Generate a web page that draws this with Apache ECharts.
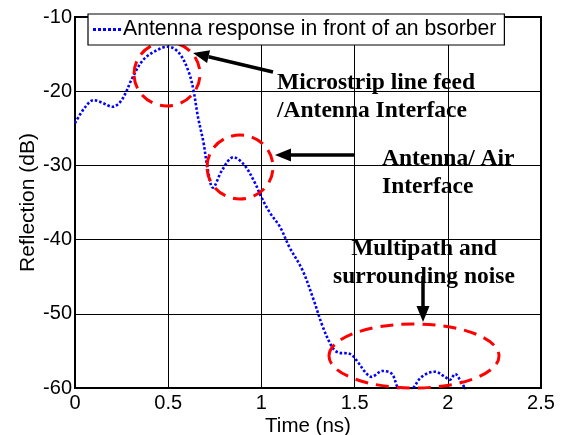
<!DOCTYPE html>
<html>
<head>
<meta charset="utf-8">
<script src="https://cdn.jsdelivr.net/npm/echarts@6/dist/echarts.min.js"></script>
<style>
  html, body { margin: 0; padding: 0; background: #fff; }
  #chart { width: 562px; height: 435px; }
</style>
</head>
<body>
<div id="chart"></div>
<script>
// Time axis samples (ns) and measured reflection (dB)
const timeNs = [0, 0.05, 0.1, 0.15, 0.2, 0.25, 0.31, 0.365, 0.43, 0.5, 0.56, 0.61, 0.635, 0.66, 0.69, 0.71, 0.74,
  0.79, 0.85, 0.91, 0.966, 1.0, 1.046, 1.1, 1.15, 1.22, 1.28, 1.33, 1.38, 1.41, 1.475, 1.52, 1.555, 1.59,
  1.65, 1.70, 1.73, 1.77, 1.815, 1.86, 1.93, 1.985, 2.01, 2.04, 2.065, 2.09, 2.1];
const reflectionDb = [-24.3, -22.3, -21.2, -21.6, -22.1, -21.2, -18.1, -15.8, -14.6, -14.0, -14.9, -17.4, -19.8, -23.5, -27.0, -30.2, -33.0,
  -30.6, -28.9, -30.0, -32.4, -34.3, -36.4, -38.3, -41.0, -44.1, -48.1, -51.8, -54.5, -55.2, -55.4, -56.6, -57.8, -58.5,
  -57.7, -58.1, -59.9, -61.5, -60.0, -58.5, -57.8, -58.5, -58.9, -58.1, -58.9, -60.0, -61.0];

const seriesName = 'Antenna response in front of an bsorber';
const xTicks = { min: 0, max: 2.5, step: 0.5 };
const yTicks = { min: -60, max: -10, step: 10 };

// Annotation labels
const noteFeed = ['Microstrip line feed', '/Antenna Interface'];
const noteAir = ['Antenna/ Air', 'Interface'];
const noteNoise = ['Multipath and', 'surrounding noise'];

// Dotted legend key: a row of small squares
const dottedKey = 'path://M0,0h3v3h-3z M5,0h3v3h-3z M10,0h3v3h-3z M15,0h3v3h-3z M20,0h3v3h-3z M25,0h3v3h-3z';

const chart = echarts.init(document.getElementById('chart'), null, { renderer: 'canvas' });

const axisFont = { fontFamily: 'Arial, "Liberation Sans", sans-serif', fontSize: 20, color: '#000' };
const noteFont = { fontFamily: '"Times New Roman", "Liberation Serif", serif', fontWeight: 'bold', fontSize: 23.5, fill: '#000' };

function arrow(x1, y1, x2, y2) {
  // shaft from (x1,y1) to the head, filled head tip at (x2,y2)
  const ang = Math.atan2(y2 - y1, x2 - x1);
  const len = 16, half = 6.5;
  const bx = x2 - len * Math.cos(ang), by = y2 - len * Math.sin(ang);
  const px = -Math.sin(ang) * half, py = Math.cos(ang) * half;
  return [
    { type: 'line', shape: { x1: x1, y1: y1, x2: bx, y2: by }, style: { stroke: '#000', lineWidth: 3.5 }, z: 110 },
    { type: 'polygon', shape: { points: [[x2, y2], [bx + px, by + py], [bx - px, by - py]] }, style: { fill: '#000' }, z: 110 }
  ];
}

function ellipse(cx, cy, rx, ry) {
  return { type: 'ellipse', shape: { cx: cx, cy: cy, rx: rx, ry: ry },
    style: { fill: null, stroke: '#ff0000', lineWidth: 3, lineDash: [13, 8] }, z: 105 };
}

function note(lines, x, y, align) {
  return lines.map((t, i) => ({
    type: 'text', x: x, y: y + i * 28, z: 110,
    style: Object.assign({ text: t, align: align, verticalAlign: 'alphabetic' }, noteFont)
  }));
}

const option = {
  backgroundColor: '#fff',
  animation: false,
  grid: { left: 75, top: 17, width: 466, height: 371, outerBoundsMode: 'none', containLabel: false,
    show: true, borderColor: '#000', borderWidth: 2, backgroundColor: 'transparent' },
  legend: {
    left: 88, top: 14, padding: [5, 8, 5, 5],
    borderColor: '#000', borderWidth: 1.2, borderRadius: 0, backgroundColor: '#fff',
    itemWidth: 28, itemHeight: 3, itemGap: 0,
    textStyle: { fontFamily: 'Arial, "Liberation Sans", sans-serif', fontSize: 21.2, color: '#000', padding: [0, 0, 0, -3] },
    data: [{ name: seriesName, icon: dottedKey }], z: 120
  },
  xAxis: {
    type: 'value', min: xTicks.min, max: xTicks.max, interval: xTicks.step,
    name: 'Time (ns)', nameLocation: 'middle', nameGap: 28, nameMoveOverlap: false,
    nameTextStyle: Object.assign({}, axisFont, { fontSize: 20.5, verticalAlign: 'top' }),
    axisLine: { show: true, onZero: false, lineStyle: { color: '#000', width: 2 } },
    axisTick: { show: false },
    axisLabel: Object.assign({ margin: 5 }, axisFont),
    splitLine: { show: true, lineStyle: { color: '#000', width: 1 } }
  },
  yAxis: {
    type: 'value', min: yTicks.min, max: yTicks.max, interval: yTicks.step,
    name: 'Reflection (dB)', nameLocation: 'middle', nameGap: 36, nameMoveOverlap: false,
    nameTextStyle: Object.assign({}, axisFont, { fontSize: 21 }),
    axisLine: { show: true, onZero: false, lineStyle: { color: '#000', width: 2 } },
    axisTick: { show: false },
    axisLabel: Object.assign({ margin: 3 }, axisFont),
    splitLine: { show: true, lineStyle: { color: '#000', width: 1 } }
  },
  series: [{
    name: seriesName, type: 'line', smooth: 0.35, symbol: 'none', clip: true,
    data: timeNs.map((t, i) => [t, reflectionDb[i]]),
    lineStyle: { color: '#0000ff', width: 2.6, type: [2.5, 2] },
    itemStyle: { color: '#0000ff' }, z: 100
  }],
  graphic: [].concat(
    ellipse(167, 74, 33, 32),
    ellipse(240, 167, 33, 32),
    ellipse(414, 356, 85, 32),
    arrow(273, 72, 193, 53),
    arrow(354, 155, 275, 155),
    arrow(423, 276, 423, 322),
    note(noteFeed, 277, 71, 'left'),
    note(noteAir, 382, 147, 'left'),
    note(noteNoise, 424, 237, 'center')
  )
};

chart.setOption(option);
</script>
</body>
</html>
